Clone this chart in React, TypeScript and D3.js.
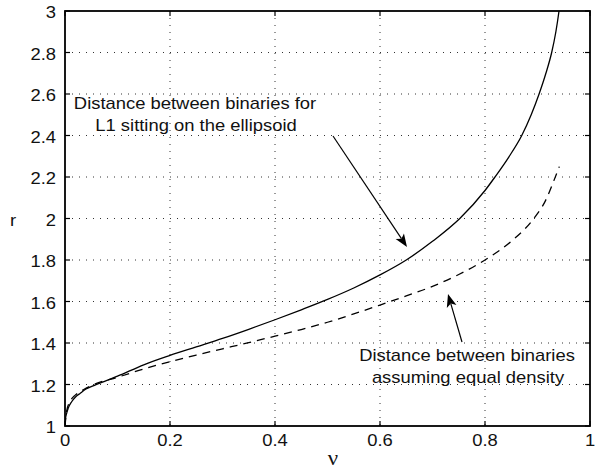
import React from "react";
import * as d3 from "d3";

const nuSolid = [0, 0.001, 0.003, 0.006, 0.0127, 0.02, 0.0286, 0.04, 0.055, 0.07, 0.1, 0.15, 0.2, 0.25, 0.3, 0.35, 0.4, 0.45, 0.5, 0.55, 0.6, 0.65, 0.7, 0.752, 0.8, 0.819, 0.845, 0.87, 0.888, 0.903, 0.916, 0.927, 0.935, 0.941, 0.945];
const rSolid = [1.0, 1.035, 1.06, 1.085, 1.117, 1.14, 1.157, 1.178, 1.195, 1.21, 1.24, 1.295, 1.34, 1.381, 1.422, 1.466, 1.512, 1.56, 1.61, 1.665, 1.728, 1.80, 1.89, 2.0, 2.135, 2.2, 2.295, 2.4, 2.5, 2.6, 2.7, 2.8, 2.9, 3.0, 3.08];

const nuDashed = [0, 0.003, 0.01, 0.02, 0.035, 0.06, 0.1, 0.15, 0.2, 0.25, 0.3, 0.35, 0.4, 0.45, 0.5, 0.55, 0.6, 0.65, 0.7, 0.75, 0.8, 0.85, 0.893, 0.915, 0.93, 0.9415];
const rDashed = [1.0, 1.07, 1.12, 1.15, 1.175, 1.205, 1.235, 1.275, 1.31, 1.342, 1.372, 1.402, 1.433, 1.465, 1.5, 1.54, 1.583, 1.627, 1.673, 1.73, 1.80, 1.89, 2.0, 2.085, 2.175, 2.25];

const xTicks = [0, 0.2, 0.4, 0.6, 0.8, 1];
const xTickLabels = ["0", "0.2", "0.4", "0.6", "0.8", "1"];
const yTicks = [1, 1.2, 1.4, 1.6, 1.8, 2, 2.2, 2.4, 2.6, 2.8, 3];
const yTickLabels = ["1", "1.2", "1.4", "1.6", "1.8", "2", "2.2", "2.4", "2.6", "2.8", "3"];

const annot1 = ["Distance between binaries for", "L1 sitting on the ellipsoid"];
const annot2 = ["Distance between binaries", "assuming equal density"];

const W = 598, H = 471;
const L = 65, R = 590, T = 11, B = 426;
const SX = 1.15;
const FONT = "'Liberation Sans', Arial, Helvetica, sans-serif";

function T2({ x, y, children, anchor = "middle", size = 16, family = FONT }: any) {
  return (
    <text transform={`translate(${x},${y}) scale(${SX},1)`} textAnchor={anchor} fontFamily={family} fontSize={size} fill="#111">
      {children}
    </text>
  );
}

function Arrow({ x1, y1, x2, y2 }: any) {
  const ang = Math.atan2(y2 - y1, x2 - x1);
  const len = 13, half = 5, back = 10;
  const c = Math.cos(ang), s = Math.sin(ang);
  const bx = x2 - len * c, by = y2 - len * s;
  const nx = x2 - back * c, ny = y2 - back * s;
  const p1 = [bx - half * s, by + half * c];
  const p2 = [bx + half * s, by - half * c];
  return (
    <g>
      <line x1={x1} y1={y1} x2={nx} y2={ny} stroke="#000" strokeWidth={1.2} />
      <path d={`M${x2},${y2}L${p1[0]},${p1[1]}L${nx},${ny}L${p2[0]},${p2[1]}Z`} fill="#000" />
    </g>
  );
}

export default function App() {
  const x = d3.scaleLinear().domain([0, 1]).range([L, R]);
  const y = d3.scaleLinear().domain([1, 3]).range([B, T]);
  const solid = d3.line<number>().x((d, i) => x(nuSolid[i])).y((d) => y(d)).curve(d3.curveMonotoneX)(rSolid) || "";
  const dashed = d3.line<number>().x((d, i) => x(nuDashed[i])).y((d) => y(d)).curve(d3.curveMonotoneX)(rDashed) || "";
  const tl = 5;
  return (
    <svg width={W} height={H} style={{ position: "absolute", left: 0, top: 0, background: "#fff" }}>
      <defs>
        <clipPath id="plot">
          <rect x={L} y={T} width={R - L} height={B - T} />
        </clipPath>
      </defs>
      <rect x={0} y={0} width={W} height={H} fill="#fff" />
      {xTicks.slice(1, -1).map((t) => (
        <line key={"gx" + t} x1={x(t)} x2={x(t)} y1={T} y2={B} stroke="#333" strokeWidth={1} strokeDasharray="1 6" />
      ))}
      {yTicks.slice(1, -1).map((t) => (
        <line key={"gy" + t} x1={L} x2={R} y1={y(t)} y2={y(t)} stroke="#333" strokeWidth={1} strokeDasharray="1 6" />
      ))}
      {xTicks.map((t) => (
        <g key={"tx" + t}>
          <line x1={x(t)} x2={x(t)} y1={B} y2={B - tl} stroke="#000" strokeWidth={1.2} />
          <line x1={x(t)} x2={x(t)} y1={T} y2={T + tl} stroke="#000" strokeWidth={1.2} />
        </g>
      ))}
      {yTicks.map((t) => (
        <g key={"ty" + t}>
          <line x1={L} x2={L + tl} y1={y(t)} y2={y(t)} stroke="#000" strokeWidth={1.2} />
          <line x1={R} x2={R - tl} y1={y(t)} y2={y(t)} stroke="#000" strokeWidth={1.2} />
        </g>
      ))}
      <g clipPath="url(#plot)">
        <path d={solid} fill="none" stroke="#000" strokeWidth={1.3} />
        <path d={dashed} fill="none" stroke="#000" strokeWidth={1.3} strokeDasharray="8 6" />
      </g>
      <rect x={L} y={T} width={R - L} height={B - T} fill="none" stroke="#000" strokeWidth={1.8} />
      {xTicks.map((t, i) => (
        <T2 key={"lx" + t} x={x(t)} y={446}>{xTickLabels[i]}</T2>
      ))}
      {yTicks.map((t, i) => (
        <T2 key={"ly" + t} x={56} y={y(t) + 7} anchor="end">{yTickLabels[i]}</T2>
      ))}
      <T2 x={13} y={226}>r</T2>
      <T2 x={333} y={465} size={20} family="'Liberation Serif', 'Times New Roman', serif">ν</T2>
      <T2 x={195} y={109}>{annot1[0]}</T2>
      <T2 x={196} y={131}>{annot1[1]}</T2>
      <Arrow x1={333} y1={136} x2={407} y2={247} />
      <T2 x={467} y={361}>{annot2[0]}</T2>
      <T2 x={468} y={383}>{annot2[1]}</T2>
      <Arrow x1={462} y1={342} x2={448} y2={294} />
    </svg>
  );
}
